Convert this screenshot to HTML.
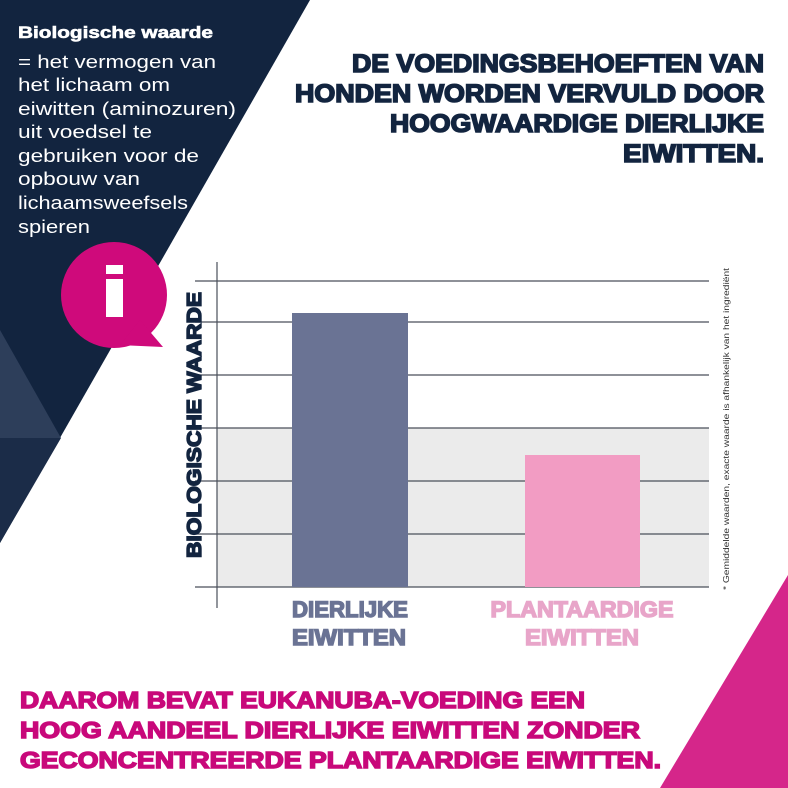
<!DOCTYPE html>
<html><head><meta charset="utf-8"><style>html,body{margin:0;padding:0;background:#fff}svg{display:block}</style></head>
<body>
<svg width="788" height="788" viewBox="0 0 788 788" xmlns="http://www.w3.org/2000/svg" font-family="Liberation Sans, sans-serif">
<rect width="788" height="788" fill="#fff"/>
<polygon points="0,0 310,0 0,543" fill="#12243f"/>
<polygon points="0,438 61,438 0,543" fill="#1b2c48"/>
<polygon points="0,330 61,438 0,438" fill="#2d3e5a"/>
<polygon points="788,575 788,788 660,788" fill="#d5268a"/>
<!-- info bubble -->
<circle cx="114" cy="295" r="53" fill="#cf0a7b"/>
<polygon points="140,320 163,347 120,345" fill="#cf0a7b"/>
<rect x="106" y="265" width="17" height="9" fill="#fff"/>
<rect x="106" y="279" width="17" height="38" fill="#fff"/>
<!-- left text -->
<g fill="#fff">
<text x="18" y="38" font-size="17" font-weight="bold" stroke="#fff" stroke-width="0.6" textLength="195" lengthAdjust="spacingAndGlyphs">Biologische waarde</text>
<g font-size="18">
<text x="18" y="68" textLength="198" lengthAdjust="spacingAndGlyphs">= het vermogen van</text>
<text x="18" y="91" textLength="152" lengthAdjust="spacingAndGlyphs">het lichaam om</text>
<text x="18" y="115" textLength="218" lengthAdjust="spacingAndGlyphs">eiwitten (aminozuren)</text>
<text x="18" y="138" textLength="134" lengthAdjust="spacingAndGlyphs">uit voedsel te</text>
<text x="18" y="162" textLength="181" lengthAdjust="spacingAndGlyphs">gebruiken voor de</text>
<text x="18" y="185" textLength="122" lengthAdjust="spacingAndGlyphs">opbouw van</text>
<text x="18" y="209" textLength="170" lengthAdjust="spacingAndGlyphs">lichaamsweefsels</text>
<text x="18" y="233" textLength="72" lengthAdjust="spacingAndGlyphs">spieren</text>
</g></g>
<!-- title -->
<g fill="#12243f" stroke="#12243f" stroke-width="1.6" font-size="25" font-weight="bold" text-anchor="end">
<text x="764" y="72" textLength="412" lengthAdjust="spacingAndGlyphs">DE VOEDINGSBEHOEFTEN VAN</text>
<text x="764" y="102" textLength="469" lengthAdjust="spacingAndGlyphs">HONDEN WORDEN VERVULD DOOR</text>
<text x="764" y="132" textLength="374" lengthAdjust="spacingAndGlyphs">HOOGWAARDIGE DIERLIJKE</text>
<text x="764" y="162" textLength="141" lengthAdjust="spacingAndGlyphs">EIWITTEN.</text>
</g>
<!-- chart -->
<rect x="217" y="428" width="492" height="159" fill="#ebebeb"/>
<g stroke="#4a4f5a" stroke-width="1.2">
<line x1="195" y1="281" x2="709" y2="281"/>
<line x1="195" y1="322" x2="709" y2="322"/>
<line x1="195" y1="375" x2="709" y2="375"/>
<line x1="195" y1="428" x2="709" y2="428"/>
<line x1="195" y1="481" x2="709" y2="481"/>
<line x1="195" y1="534" x2="709" y2="534"/>
<line x1="195" y1="587" x2="709" y2="587"/>
<line x1="217" y1="262" x2="217" y2="608"/>
</g>
<rect x="292" y="313" width="116" height="274" fill="#6a7394"/>
<rect x="525" y="455" width="115" height="132" fill="#f29cc3"/>
<text transform="translate(201,558) rotate(-90)" font-size="20" font-weight="bold" fill="#12243f" stroke="#12243f" stroke-width="1.4" textLength="266" lengthAdjust="spacingAndGlyphs">BIOLOGISCHE WAARDE</text>
<g font-size="22" font-weight="bold" text-anchor="middle" stroke-width="1.4">
<g fill="#6a7394" stroke="#6a7394">
<text x="350" y="617" textLength="116" lengthAdjust="spacingAndGlyphs">DIERLIJKE</text>
<text x="349" y="645" textLength="114" lengthAdjust="spacingAndGlyphs">EIWITTEN</text>
</g>
<g fill="#e8a5c9" stroke="#e8a5c9">
<text x="582" y="617" textLength="183" lengthAdjust="spacingAndGlyphs">PLANTAARDIGE</text>
<text x="582" y="645" textLength="114" lengthAdjust="spacingAndGlyphs">EIWITTEN</text>
</g></g>
<text transform="translate(729,590) rotate(-90)" font-size="8" fill="#333" textLength="322" lengthAdjust="spacingAndGlyphs">*  Gemiddelde waarden, exacte waarde is afhankelijk van het ingrediënt</text>
<!-- bottom -->
<g fill="#c8087a" stroke="#c8087a" stroke-width="1.5" font-size="23" font-weight="bold">
<text x="20" y="708" textLength="565" lengthAdjust="spacingAndGlyphs">DAAROM BEVAT EUKANUBA-VOEDING EEN</text>
<text x="20" y="738" textLength="620" lengthAdjust="spacingAndGlyphs">HOOG AANDEEL DIERLIJKE EIWITTEN ZONDER</text>
<text x="20" y="768" textLength="641" lengthAdjust="spacingAndGlyphs">GECONCENTREERDE PLANTAARDIGE EIWITTEN.</text>
</g>
</svg>
</body></html>
